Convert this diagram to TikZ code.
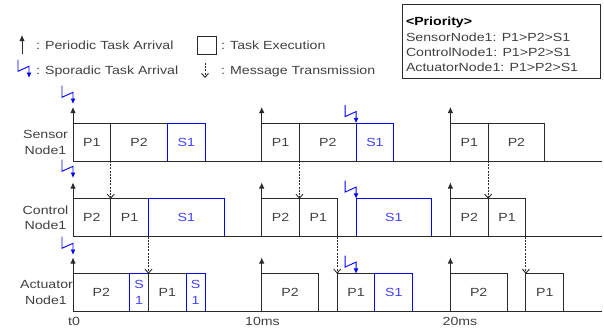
\documentclass[tikz,border=0pt]{standalone}
\usepackage{fontspec}
\setmainfont{Liberation Sans}[FakeStretch=1.2]
\usetikzlibrary{arrows.meta}
\definecolor{ln}{HTML}{2A2A2A}
\definecolor{tx}{HTML}{404040}
\definecolor{sb}{HTML}{0000FF}
\definecolor{st}{HTML}{4040FF}
\newcommand\fs{\fontsize{11.8}{16}\selectfont}
\newcommand\msu{18.87}
\newcommand\tk[6]{%
  \pgfmathsetmacro\tkx{73+#3*\msu}%
  \pgfmathsetmacro\tkw{#4*\msu}%
  \node[#1, minimum width=\tkw pt, anchor=south west] (#2) at (\tkx,#5) {#6};}
\begin{document}
\begin{tikzpicture}[x=1pt,y=-1pt,
  task/.style={draw=ln, line width=0.9pt, text=tx, minimum height=37.7pt, inner sep=0pt, outer sep=0pt, font=\fs, align=center},
  stask/.style={task, draw=sb, text=st},
  per/.style={draw=ln, line width=0.9pt, -{Latex[length=6pt,width=5.5pt]}},
  msg/.style={draw=ln, line width=0.9pt, dash pattern=on 2pt off 1.2pt, -{Straight Barb[length=4pt,width=7pt]}},
  baseln/.style={draw=ln, line width=0.9pt},
  lbl/.style={text=tx, inner sep=0pt, outer sep=0pt, font=\fs, text height=8.5pt, text depth=0pt},
  pics/spor/.style={code={\draw[sb, line width=0.9pt, -{Latex[length=5.5pt,width=5pt]}] (-11,-18.3) -- (-11,-6.7) -- (0,-11.7) -- (0,0);}}
]
\useasboundingbox (0,0) rectangle (604,327);

% ---------- legend ----------
\coordinate (lp0) at (22,54);
\coordinate (lp1) at (22,35);
\draw[per] (lp0) -- (lp1);
\node[lbl, anchor=west] (lpt) at (36,45) {: Periodic Task Arrival};
\pic at (29,78) {spor};
\node[lbl, anchor=west] (lst) at (36,70) {: Sporadic Task Arrival};
\node[draw=ln, line width=0.9pt, minimum width=19pt, minimum height=18pt, inner sep=0pt, anchor=north west] (lbox) at (197,36) {};
\node[lbl, anchor=west] (lbt) at (221,45) {: Task Execution};
\coordinate (lm0) at (205,63);
\coordinate (lm1) at (205,78);
\draw[msg] (lm0) -- (lm1);
\node[lbl, anchor=west] (lmt) at (221,70) {: Message Transmission};

% ---------- priority box ----------
\node[draw=ln, line width=0.9pt, minimum width=198pt, minimum height=73.5pt, inner sep=0pt, anchor=north west] (pbox) at (402,4) {};
\node[lbl, anchor=west, text=black] (pr0) at (406,21) {\bfseries <Priority>};
\node[lbl, anchor=west] (pr1) at (406,37) {SensorNode1: P1>P2>S1};
\node[lbl, anchor=west] (pr2) at (406,52) {ControlNode1: P1>P2>S1};
\node[lbl, anchor=west] (pr3) at (406,67) {ActuatorNode1: P1>P2>S1};

% ---------- row labels ----------
\node[lbl] (rs1) at (45.5,134) {Sensor};
\node[lbl] (rs2) at (45.5,150) {Node1};
\node[lbl] (rc1) at (45.5,210) {Control};
\node[lbl] (rc2) at (45.5,225.5) {Node1};
\node[lbl] (ra1) at (46.5,284) {Actuator};
\node[lbl] (ra2) at (46,300) {Node1};

% ---------- sensor node ----------
\tk{task}{sa}{0}{2}{161}{P1}
\tk{task}{sb}{2}{3}{161}{P2}
\tk{stask}{sc}{5}{2}{161}{S1}
\tk{task}{sd}{10}{2}{161}{P1}
\tk{task}{se}{12}{3}{161}{P2}
\tk{stask}{sf}{15}{2}{161}{S1}
\tk{task}{sg}{20}{2}{161}{P1}
\tk{task}{sh}{22}{3}{161}{P2}
\coordinate (sEnd) at (602,161);
\draw[baseln] (sa.south west) -- (sEnd);

% ---------- control node ----------
\tk{task}{ca}{0}{2}{236.5}{P2}
\tk{task}{cb}{2}{2}{236.5}{P1}
\tk{stask}{cc}{4}{4}{236.5}{S1}
\tk{task}{cd}{10}{2}{236.5}{P2}
\tk{task}{ce}{12}{2}{236.5}{P1}
\tk{stask}{cf}{15}{4}{236.5}{S1}
\tk{task}{cg}{20}{2}{236.5}{P2}
\tk{task}{ch}{22}{2}{236.5}{P1}
\coordinate (cEnd) at (602,236.5);
\draw[baseln] (ca.south west) -- (cEnd);

% ---------- actuator node ----------
\tk{task}{aa}{0}{3}{311.5}{P2}
\tk{stask}{ab}{3}{1}{311.5}{S\\1}
\tk{task}{ac}{4}{2}{311.5}{P1}
\tk{stask}{ad}{6}{1}{311.5}{S\\1}
\tk{task}{ae}{10}{3}{311.5}{P2}
\tk{task}{af}{14}{2}{311.5}{P1}
\tk{stask}{ag}{16}{2}{311.5}{S1}
\tk{task}{ah}{20}{3}{311.5}{P2}
\tk{task}{ai}{24}{2}{311.5}{P1}
\coordinate (aEnd) at (602,311.5);
\draw[baseln] (aa.south west) -- (aEnd);

% ---------- periodic arrivals ----------
\foreach \n in {sa,sd,sg,ca,cd,cg,aa,ae,ah}
  \draw[per] (\n.south west) -- ++(0,-54);

% ---------- sporadic arrivals ----------
\pic at (73,104) {spor};
\pic at (sf.north west) {spor};
\pic at (73,178) {spor};
\pic at (cf.north west) {spor};
\pic at (73,255) {spor};
\pic at (af.north) {spor};

% ---------- message transmissions ----------
\draw[msg] (sa.south east) -- (cb.north west);
\draw[msg] (sd.south east) -- (ce.north west);
\draw[msg] (sg.south east) -- (ch.north west);
\draw[msg] (cb.south east) -- (ac.north west);
\draw[msg] (ce.south east) -- (af.north west);
\draw[msg] (ch.south east) -- (ai.north west);

% ---------- time labels ----------
\node[lbl] (t0) at (74,321) {t0};
\node[lbl] (t10) at (262.5,321) {10ms};
\node[lbl] (t20) at (460,321) {20ms};
\end{tikzpicture}
\end{document}
